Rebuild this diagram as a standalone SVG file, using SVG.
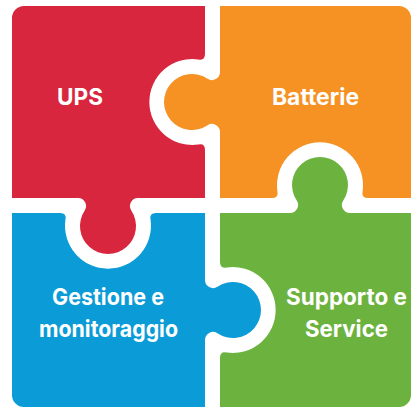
<svg xmlns="http://www.w3.org/2000/svg" width="413" height="411" viewBox="0 0 413 411">
<style>
.lbl{font-family:Inter,"Open Sans","Liberation Sans",sans-serif;font-weight:700;font-size:23px;fill:#fff;text-anchor:middle}
</style>
<rect width="413" height="411" fill="#fff"/>
<g id="ups">
<path fill="#D8263E" d="M12,198 V18 A12,12 0 0 1 24,6 H205 V54 Q205,61 198.2,59.4 A43,43 0 1 0 198.2,144.6 Q205,143 205,150 V198 H137.93 A8,8 0 0 0 131.28,210.44 A28,28 0 1 1 84.72,210.44 A8,8 0 0 0 78.07,198 Z"/>
<text class="lbl" x="80" y="105" textLength="46" lengthAdjust="spacingAndGlyphs">UPS</text>
</g>
<g id="batterie">
<path fill="#F59223" d="M220,6 H399 A12,12 0 0 1 411,18 V198 H368 Q361,198 362.6,191.2 A43,43 0 1 0 277.4,191.2 Q279,198 272,198 H220 V131.93 A8,8 0 0 0 207.56,125.28 A28,28 0 1 1 207.56,78.72 A8,8 0 0 0 220,72.07 Z"/>
<text class="lbl" x="315.5" y="105" textLength="87" lengthAdjust="spacingAndGlyphs">Batterie</text>
</g>
<g id="gestione">
<path fill="#0B9BD6" d="M12,213 H60 Q67,213 65.4,219.8 A43,43 0 1 0 150.6,219.8 Q149,213 156,213 H205 V280.07 A8,8 0 0 0 217.44,286.72 A28,28 0 1 1 217.44,333.28 A8,8 0 0 0 205,339.93 V407 H24 A12,12 0 0 1 12,395 Z"/>
<text class="lbl" x="108" y="305" textLength="112" lengthAdjust="spacingAndGlyphs">Gestione e</text>
<text class="lbl" x="108.5" y="337" textLength="139" lengthAdjust="spacingAndGlyphs">monitoraggio</text>
</g>
<g id="supporto">
<path fill="#6CB23E" d="M220,213 H290.07 A8,8 0 0 0 296.72,200.56 A28,28 0 1 1 343.28,200.56 A8,8 0 0 0 349.93,213 H411 V395 A12,12 0 0 1 399,407 H220 V358 Q220,351 226.8,352.6 A43,43 0 1 0 226.8,267.4 Q220,269 220,262 Z"/>
<text class="lbl" x="346.5" y="305" textLength="121" lengthAdjust="spacingAndGlyphs">Supporto e</text>
<text class="lbl" x="346.5" y="337" textLength="83" lengthAdjust="spacingAndGlyphs">Service</text>
</g>
</svg>
